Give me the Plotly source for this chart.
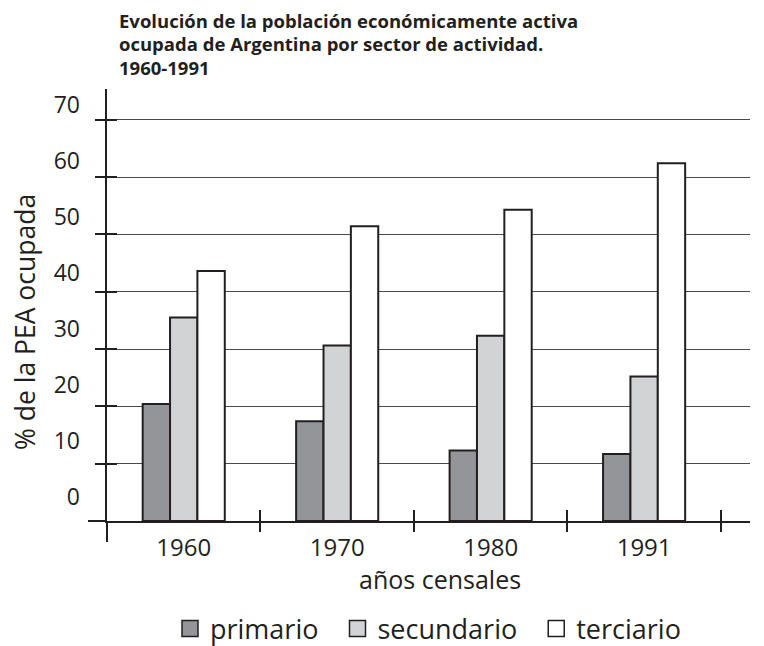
import plotly.graph_objects as go

years = ["1960", "1970", "1980", "1991"]
primario = [20.4, 17.4, 12.3, 11.7]
secundario = [35.5, 30.6, 32.3, 25.2]
terciario = [43.6, 51.4, 54.3, 62.4]
series_names = ["primario", "secundario", "terciario"]
series_colors = ["#939598", "#d1d3d4", "#ffffff"]
y_ticks = [0, 10, 20, 30, 40, 50, 60, 70]
title_lines = [
    "Evolución de la población económicamente activa",
    "ocupada de Argentina por sector de actividad.",
    "1960-1991",
]
x_title = "años censales"
y_title = "% de la PEA ocupada"

INK = "#231f20"
FONT = "Open Sans"
W, H = 764, 646
M_L, M_R, M_T, M_B = 107, 14, 89, 125
PLOT_W = W - M_L - M_R
PLOT_H = H - M_T - M_B


def px_x(px):
    return (px - M_L) / PLOT_W


def px_y(py):
    return (H - M_B - py) / PLOT_H


fig = go.Figure()
for name, vals, col in zip(series_names, [primario, secundario, terciario], series_colors):
    fig.add_trace(go.Bar(
        x=years, y=vals, name=name, showlegend=False,
        marker=dict(color=col, line=dict(color=INK, width=2)),
    ))
# legend entries (square swatches)
pad = ["\u00a0\u00a0", "\u00a0\u00a0", ""]
for name, col, p in zip(series_names, series_colors, pad):
    fig.add_trace(go.Scatter(
        x=[None], y=[None], mode="markers", name=name + p,
        marker=dict(symbol="square", size=16, color=col, line=dict(color=INK, width=1.5)),
    ))

x_lo, x_hi = -0.5, 3.69
y_top = PLOT_H / 5.733

annotations = []
for i, line in enumerate(title_lines):
    py = [20.5, 44, 67.5][i]
    annotations.append(dict(
        text="<b>" + line + "</b>", xref="paper", yref="paper",
        x=px_x(117), xanchor="left", y=px_y(py), yanchor="middle", showarrow=False,
        font=dict(family=FONT, size=18.5, color=INK),
    ))
annotations.append(dict(
    text=x_title, xref="paper", yref="paper", x=px_x(440), xanchor="center",
    y=px_y(579), yanchor="middle", showarrow=False, font=dict(size=25, color=INK),
))
annotations.append(dict(
    text=y_title, xref="paper", yref="paper", x=px_x(25), xanchor="center",
    y=px_y(322), yanchor="middle", showarrow=False, textangle=-90,
    font=dict(size=26.5, color=INK),
))

fig.update_layout(
    width=W, height=H,
    margin=dict(l=M_L, r=M_R, t=M_T, b=M_B),
    paper_bgcolor="white", plot_bgcolor="white",
    font=dict(family=FONT, color=INK, size=23),
    barmode="group", bargap=0.465, bargroupgap=0,
    annotations=annotations,
    xaxis=dict(
        type="category", range=[x_lo, x_hi], automargin=False,
        showline=True, linecolor=INK, linewidth=2,
        ticks="outside", ticklen=9, tickwidth=2, tickcolor=INK,
        tickson="boundaries", showgrid=False,
        tickfont=dict(size=24), ticklabelstandoff=4,
    ),
    xaxis2=dict(
        overlaying="x", anchor="y", side="bottom", range=[x_lo, x_hi], automargin=False,
        tickvals=[-0.5, 0.5, 1.5, 2.5, 3.5], ticks="inside", ticklen=11,
        tickwidth=2, tickcolor=INK, showticklabels=False, showgrid=False,
        showline=False, zeroline=False,
    ),
    yaxis=dict(
        range=[0, y_top], tickvals=y_ticks, showticklabels=False, automargin=False,
        showline=True, linecolor=INK, linewidth=2,
        ticks="outside", ticklen=10, tickwidth=2, tickcolor=INK,
        showgrid=True, gridcolor="#4a4a4a", gridwidth=1, zeroline=False,
    ),
    yaxis2=dict(
        overlaying="y", anchor="x", side="left", range=[-4.36, 72.86], automargin=False,
        tickvals=y_ticks, ticks="", showgrid=False, showline=False, zeroline=False,
        tickfont=dict(size=23), ticklabelstandoff=26,
    ),
    yaxis3=dict(
        overlaying="y", anchor="x", side="left", range=[0, y_top], automargin=False,
        tickvals=y_ticks[1:], ticks="inside", ticklen=10, tickwidth=2, tickcolor=INK,
        showticklabels=False, showgrid=False, showline=False, zeroline=False,
    ),
    legend=dict(
        orientation="h", x=170 / W, xanchor="left", xref="container",
        y=1 - 629 / H, yanchor="middle", yref="container",
        font=dict(size=27), itemwidth=30, tracegroupgap=0,
        bgcolor="rgba(0,0,0,0)",
    ),
    shapes=[
        dict(type="line", xref="paper", yref="paper", x0=0, x1=0,
             ysizemode="pixel", yanchor=0, y0=0, y1=-21,
             line=dict(color=INK, width=2)),
        dict(type="line", xref="paper", yref="paper", y0=0, y1=0,
             xsizemode="pixel", xanchor=0, x0=-19, x1=0,
             line=dict(color=INK, width=2)),
    ],
)

# dummy traces to activate overlay axes
fig.add_trace(go.Scatter(x=[None], y=[None], xaxis="x2", yaxis="y2", showlegend=False))
fig.add_trace(go.Scatter(x=[None], y=[None], xaxis="x2", yaxis="y3", showlegend=False))

fig.write_html("out.html", config={"displayModeBar": False},
               post_script="document.body.style.margin='0';")
